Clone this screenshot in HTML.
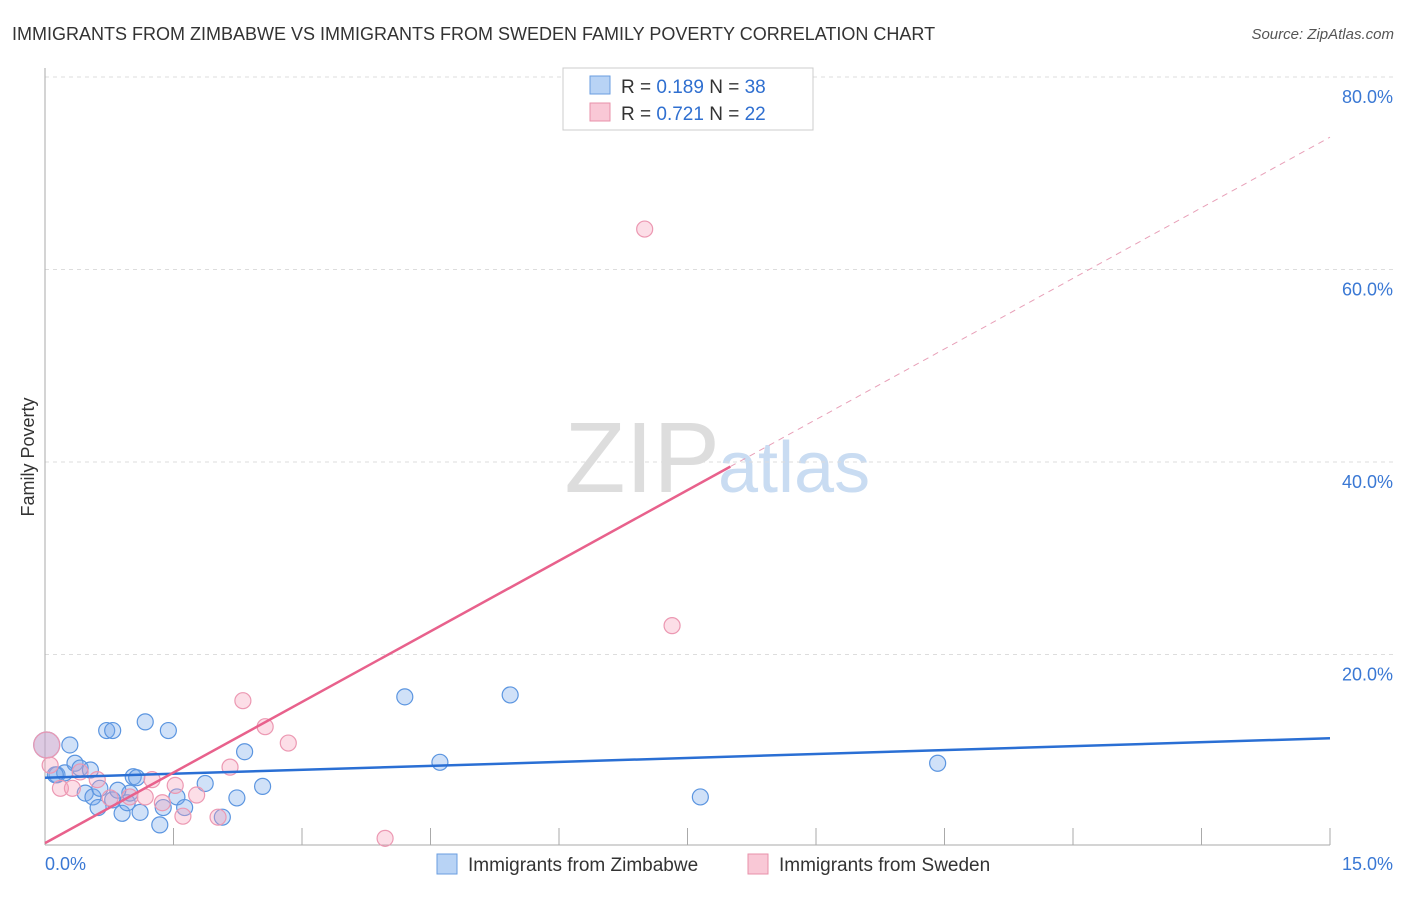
<!DOCTYPE html>
<html><head><meta charset="utf-8"><style>
body{margin:0;background:#fff;font-family:"Liberation Sans",sans-serif}
svg text{font-family:"Liberation Sans",sans-serif}
</style></head><body>
<svg id="c" width="1406" height="892">
<text x="12" y="40" font-size="18" fill="#333">IMMIGRANTS FROM ZIMBABWE VS IMMIGRANTS FROM SWEDEN FAMILY POVERTY CORRELATION CHART</text>
<text x="1394" y="39" font-size="15" fill="#555" text-anchor="end" font-style="italic">Source: ZipAtlas.com</text>
<text x="34" y="457" font-size="18" fill="#333" text-anchor="middle" transform="rotate(-90 34 457)">Family Poverty</text>
<text x="720" y="492" font-size="100" fill="#ddd" text-anchor="end" font-family="Liberation Serif">ZIP</text>
<text x="718" y="492" font-size="72" fill="#c9dcf2">atlas</text>
<g id="grid"></g><g id="marks"></g>
<g>
<rect x="563" y="68" width="250" height="62" fill="#fff" stroke="#ccc"/>
<rect x="590" y="76" width="20" height="18" fill="#b8d3f5" stroke="#6a9ee0"/>
<text x="621" y="93" font-size="19" fill="#333">R = <tspan fill="#2f6fd0">0.189</tspan>   N = <tspan fill="#2f6fd0">38</tspan></text>
<rect x="590" y="103" width="20" height="18" fill="#f9c8d6" stroke="#e891aa"/>
<text x="621" y="120" font-size="19" fill="#333">R = <tspan fill="#2f6fd0">0.721</tspan>   N = <tspan fill="#2f6fd0">22</tspan></text>
</g>
<g>
<rect x="437" y="854" width="20" height="20" fill="#b8d3f5" stroke="#6a9ee0"/>
<text x="468" y="871" font-size="19" fill="#333">Immigrants from Zimbabwe</text>
<rect x="748" y="854" width="20" height="20" fill="#f9c8d6" stroke="#e891aa"/>
<text x="779" y="871" font-size="19" fill="#333">Immigrants from Sweden</text>
</g>
</svg>
<script>
const yTicks=[20,40,60,80];
const zimX=[.02,.29,.14,.23,.35,.41,.47,.56,.64,.62,.72,.79,.79,.90,.96,1.03,1.07,1.11,1.17,1.34,1.38,1.44,1.54,1.63,1.87,2.07,2.24,2.33,2.54,4.20,4.61,5.43,7.65,10.42,.12,.53,.99,.85];
const zimY=[10.6,10.6,7.5,7.7,8.7,8.2,5.6,5.2,6.1,4.1,12.1,12.1,4.9,3.5,4.6,7.3,7.2,3.6,13.0,2.3,4.1,12.1,5.2,4.1,6.6,3.1,5.1,9.9,6.3,15.6,8.8,15.8,5.2,8.7,7.5,8.0,5.6,5.9];
const sweX=[.02,.18,.32,.41,.61,.76,.99,1.17,1.25,1.37,1.52,1.61,1.77,2.02,2.16,2.31,2.57,2.84,3.97,7.00,7.32,.06];
const sweY=[10.6,6.1,6.1,7.8,7.0,5.1,5.2,5.2,7.0,4.6,6.4,3.2,5.4,3.1,8.3,15.2,12.5,10.8,0.9,64.2,23.0,8.5];
const zimLine=[7.2,11.3];
const sweLine=[0.4,4.89];
const NS='http://www.w3.org/2000/svg';
const X=v=>45+v*1285/15, Y=v=>847-v*9.625;
function mk(t,a,p){const e=document.createElementNS(NS,t);for(const k in a)e.setAttribute(k,a[k]);p.appendChild(e);return e;}
const g=document.getElementById('grid'),m=document.getElementById('marks');
yTicks.forEach(t=>{
const l=mk('line',{x1:45,x2:1395,y1:Y(t),y2:Y(t),stroke:'#ddd','stroke-dasharray':'4,4'},g);


const tx=mk('text',{x:1393,y:Y(t)+26,'font-size':18,fill:'#3a78d4','text-anchor':'end'},g);tx.textContent=t.toFixed(1)+'%';


});
mk('line',{x1:45,x2:45,y1:68,y2:845,stroke:'#aaa'},g);
mk('line',{x1:45,x2:1330,y1:845,y2:845,stroke:'#aaa'},g);
for(let i=0;i<=10;i++){const x=X(i*1.5);mk('line',{x1:x,x2:x,y1:828,y2:845,stroke:'#aaa'},g);}
const x0=mk('text',{x:45,y:870,'font-size':18,fill:'#3a78d4'},g);x0.textContent='0.0%';


const x1=mk('text',{x:1393,y:870,'font-size':18,fill:'#3a78d4','text-anchor':'end'},g);x1.textContent='15.0%';


zimX.forEach((x,i)=>{const c=mk('circle',{cx:X(x),cy:Y(zimY[i]),r:i==0?13:8,fill:'rgba(120,170,235,0.35)',stroke:'#5b95e0','stroke-width':1.2},m);

});
sweX.forEach((x,i)=>{const c=mk('circle',{cx:X(x),cy:Y(sweY[i]),r:i==0?13:8,fill:'rgba(245,160,185,0.35)',stroke:'#ec98b2','stroke-width':1.2},m);

});
const bl=mk('line',{x1:X(0),y1:Y(zimLine[0]),x2:X(15),y2:Y(zimLine[1]),stroke:'#2a6fd4','stroke-width':2.5},m);


const pl=mk('line',{x1:X(0),y1:Y(sweLine[0]),x2:X(8),y2:Y(sweLine[0]+8*sweLine[1]),stroke:'#e8618c','stroke-width':2.5},m);


const pd=mk('line',{x1:X(8),y1:Y(sweLine[0]+8*sweLine[1]),x2:X(15),y2:Y(sweLine[0]+15*sweLine[1]),stroke:'#e8a0b8','stroke-width':1,'stroke-dasharray':'6,5'},m);


</script>
</body></html>
